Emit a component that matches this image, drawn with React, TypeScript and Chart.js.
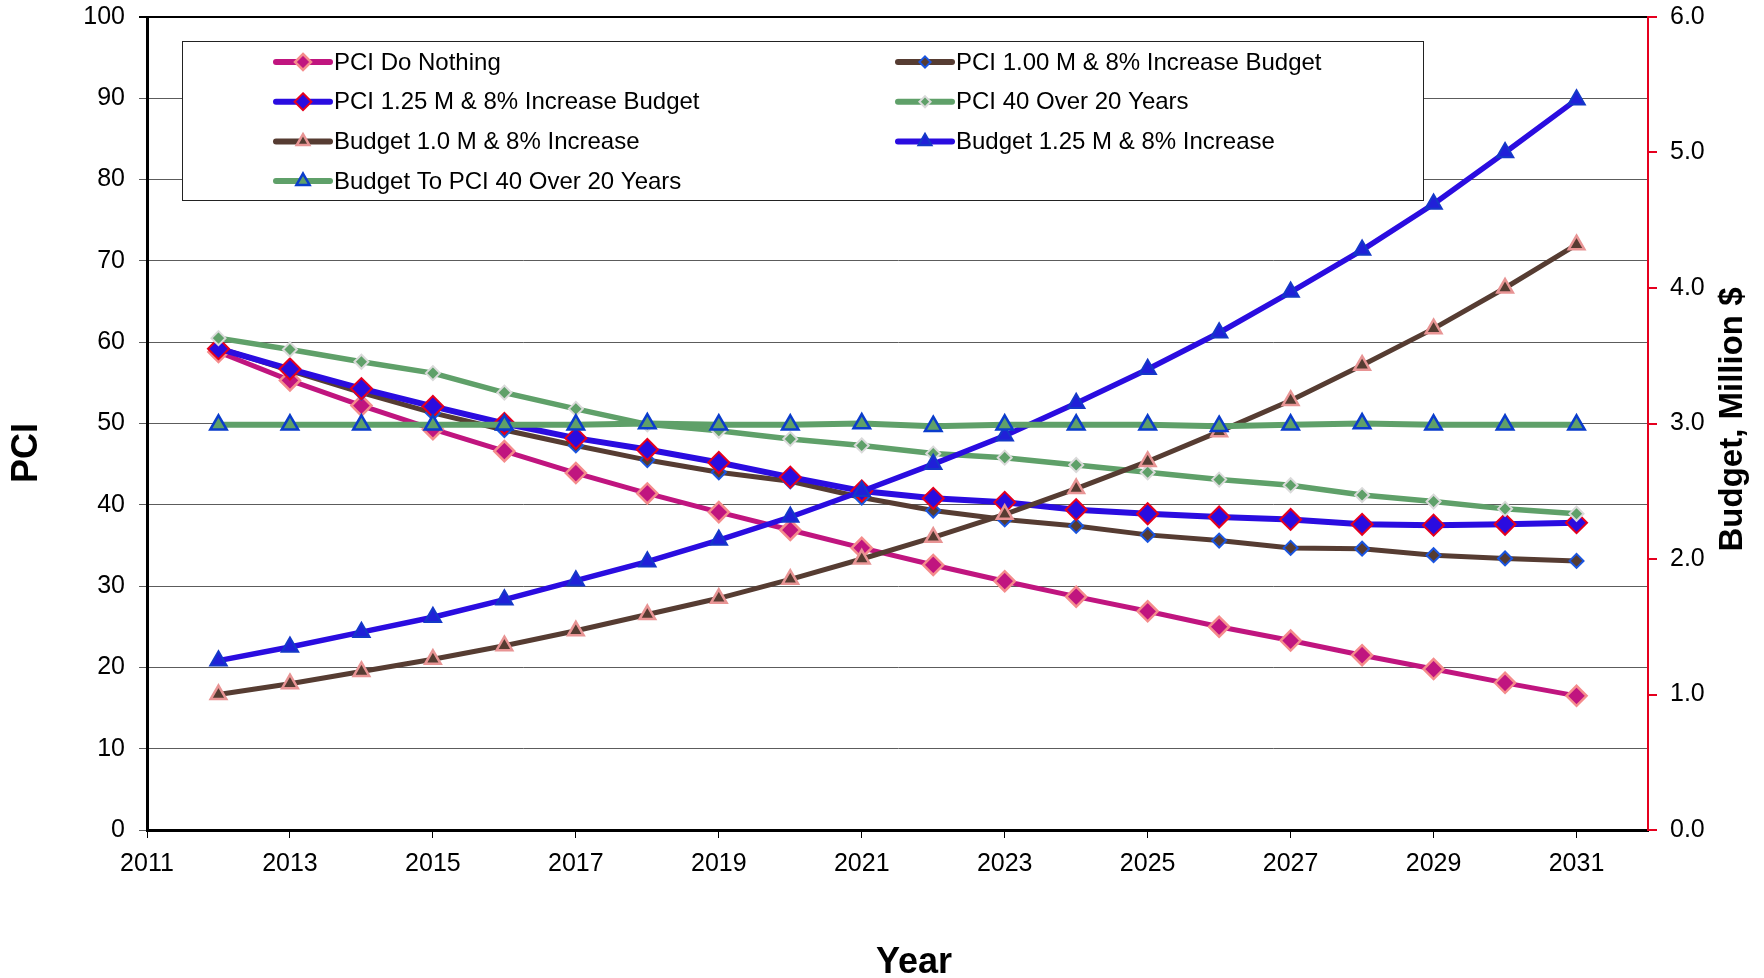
import React, { useEffect, useRef } from "react";
import { Chart, registerables } from "chart.js";

Chart.register(...registerables);

const FONT = "'Liberation Sans', Arial, Helvetica, sans-serif";

// ---- data ----
const years = [
  2012, 2013, 2014, 2015, 2016, 2017, 2018, 2019, 2020, 2021,
  2022, 2023, 2024, 2025, 2026, 2027, 2028, 2029, 2030, 2031,
];

const pciDoNothing = [
  58.8, 55.3, 52.2, 49.3, 46.6, 43.9, 41.4, 39.1, 36.9, 34.7,
  32.6, 30.6, 28.7, 26.9, 25.0, 23.3, 21.5, 19.8, 18.1, 16.5,
];
const pci100Budget = [
  59.3, 56.5, 53.8, 51.3, 49.2, 47.3, 45.5, 44.0, 42.9, 40.9,
  39.3, 38.2, 37.4, 36.3, 35.6, 34.7, 34.6, 33.8, 33.4, 33.1,
];
const pci125Budget = [
  59.2, 56.7, 54.3, 52.1, 50.0, 48.2, 46.8, 45.2, 43.4, 41.7,
  40.8, 40.3, 39.4, 38.9, 38.5, 38.2, 37.6, 37.5, 37.6, 37.8,
];
const pci40Over20 = [
  60.5, 59.1, 57.6, 56.2, 53.8, 51.8, 49.9, 49.1, 48.1, 47.3,
  46.3, 45.8, 44.9, 44.0, 43.1, 42.4, 41.2, 40.4, 39.5, 38.9,
];
const budget100 = [
  1.0, 1.08, 1.17, 1.26, 1.36, 1.47, 1.59, 1.71, 1.85, 2.0,
  2.16, 2.33, 2.52, 2.72, 2.94, 3.17, 3.43, 3.7, 4.0, 4.32,
];
const budget125 = [
  1.25, 1.35, 1.46, 1.57, 1.7, 1.84, 1.98, 2.14, 2.31, 2.5,
  2.7, 2.91, 3.15, 3.4, 3.67, 3.97, 4.28, 4.62, 5.0, 5.39,
];
const budgetPci40 = [
  2.99, 2.99, 2.99, 2.99, 2.99, 2.99, 3.0, 2.99, 2.99, 3.0,
  2.98, 2.99, 2.99, 2.99, 2.98, 2.99, 3.0, 2.99, 2.99, 2.99,
];

const yearTicks = [2011, 2013, 2015, 2017, 2019, 2021, 2023, 2025, 2027, 2029, 2031];

// ---- styles ----
const MAGENTA = "#C0157F";
const SALMON = "#F58C8C";
const BROWN = "#563C32";
const BLUE = "#2A0CE0";
const GREEN = "#5FA069";
const RED = "#E5001E";
const EDGE_BLUE = "#1A55E0";

type Series = {
  label: string;
  values: number[];
  axis: "y" | "y1";
  line: string;
  fill: string;
  edge: string;
  shape: "rectRot" | "triangle";
  radius: number;
  lineWidth: number;
  edgeWidth: number;
};

const series: Series[] = [
  { label: "PCI Do Nothing", values: pciDoNothing, axis: "y", line: MAGENTA, fill: MAGENTA, edge: SALMON, shape: "rectRot", radius: 10, lineWidth: 5, edgeWidth: 2.5 },
  { label: "PCI 1.00 M & 8% Increase Budget", values: pci100Budget, axis: "y", line: BROWN, fill: BROWN, edge: EDGE_BLUE, shape: "rectRot", radius: 7, lineWidth: 5, edgeWidth: 2 },
  { label: "PCI 1.25 M & 8% Increase Budget", values: pci125Budget, axis: "y", line: BLUE, fill: BLUE, edge: RED, shape: "rectRot", radius: 10.5, lineWidth: 6, edgeWidth: 2 },
  { label: "PCI 40 Over 20 Years", values: pci40Over20, axis: "y", line: GREEN, fill: GREEN, edge: "#DADADA", shape: "rectRot", radius: 7, lineWidth: 5.5, edgeWidth: 2 },
  { label: "Budget 1.0 M & 8% Increase", values: budget100, axis: "y1", line: BROWN, fill: BROWN, edge: "#E89494", shape: "triangle", radius: 9, lineWidth: 5, edgeWidth: 2.5 },
  { label: "Budget 1.25 M & 8% Increase", values: budget125, axis: "y1", line: BLUE, fill: "#2020D8", edge: "#1438C8", shape: "triangle", radius: 9.5, lineWidth: 5.5, edgeWidth: 2 },
  { label: "Budget To PCI 40 Over 20 Years", values: budgetPci40, axis: "y1", line: GREEN, fill: GREEN, edge: "#0A3CCC", shape: "triangle", radius: 9.5, lineWidth: 6, edgeWidth: 2.5 },
];

function shapePath(ctx: CanvasRenderingContext2D, shape: string, x: number, y: number, r: number) {
  ctx.beginPath();
  if (shape === "rectRot") {
    ctx.moveTo(x, y - r);
    ctx.lineTo(x + r, y);
    ctx.lineTo(x, y + r);
    ctx.lineTo(x - r, y);
  } else {
    for (let k = 0; k < 3; k++) {
      const a = (k * 2 * Math.PI) / 3;
      const px = x + Math.sin(a) * r;
      const py = y - Math.cos(a) * r;
      if (k === 0) ctx.moveTo(px, py);
      else ctx.lineTo(px, py);
    }
  }
  ctx.closePath();
}

// Boxed two-column legend inside the plot area
const legendBox = {
  id: "legendBox",
  afterDatasetsDraw(chart: Chart) {
    const ctx = chart.ctx;
    ctx.save();
    ctx.fillStyle = "#ffffff";
    ctx.fillRect(182, 41, 1241, 159);
    ctx.strokeStyle = "#222";
    ctx.lineWidth = 1;
    ctx.strokeRect(182.5, 41.5, 1241, 159);

    const colX = [276, 898];
    series.forEach((s, i) => {
      const col = i % 2;
      const row = Math.floor(i / 2);
      const x0 = colX[col];
      const y = 62 + row * 39.7;
      ctx.strokeStyle = s.line;
      ctx.lineWidth = 6;
      ctx.lineCap = "round";
      ctx.beginPath();
      ctx.moveTo(x0, y);
      ctx.lineTo(x0 + 54, y);
      ctx.stroke();
      shapePath(ctx, s.shape, x0 + 27, y, s.radius * 0.8);
      ctx.fillStyle = s.fill;
      ctx.fill();
      ctx.strokeStyle = s.edge;
      ctx.lineWidth = s.edgeWidth;
      ctx.lineJoin = "miter";
      ctx.stroke();
      ctx.fillStyle = "#000";
      ctx.font = `24px ${FONT}`;
      ctx.textAlign = "left";
      ctx.textBaseline = "middle";
      ctx.fillText(s.label, x0 + 58, y + 1);
    });
    ctx.restore();
  },
};

// Axis titles
const axisTitles = {
  id: "axisTitles",
  afterDraw(chart: Chart) {
    const ctx = chart.ctx;
    ctx.save();
    ctx.fillStyle = "#000";
    ctx.textAlign = "center";

    ctx.font = `bold 36px ${FONT}`;
    ctx.textBaseline = "alphabetic";
    ctx.fillText("Year", 914, 972.5);

    ctx.save();
    ctx.translate(27.5, 453);
    ctx.rotate(-Math.PI / 2);
    ctx.textBaseline = "middle";
    ctx.fillText("PCI", 0, 0);
    ctx.restore();

    ctx.save();
    ctx.translate(1733, 419.5);
    ctx.rotate(-Math.PI / 2);
    ctx.font = `bold 33px ${FONT}`;
    ctx.textBaseline = "middle";
    ctx.fillText("Budget, Million $", 0, 0);
    ctx.restore();

    ctx.restore();
  },
};

const noVerticalPadding = (s: any, width: number) => {
  s.width = width;
  s.paddingTop = 0;
  s.paddingBottom = 0;
};

export default function App() {
  const canvasRef = useRef<HTMLCanvasElement | null>(null);

  useEffect(() => {
    document.body.style.margin = "0";
    const canvas = canvasRef.current;
    if (!canvas) return;

    const datasets = series.map((s, i) => ({
      label: s.label,
      data: years.map((yr, k) => ({ x: yr, y: s.values[k] })),
      yAxisID: s.axis,
      borderColor: s.line,
      backgroundColor: s.fill,
      borderWidth: s.lineWidth,
      pointStyle: s.shape,
      pointRadius: s.radius,
      pointBackgroundColor: s.fill,
      pointBorderColor: s.edge,
      pointBorderWidth: s.edgeWidth,
      tension: 0,
      fill: false,
      order: series.length - i,
    }));

    const chart = new Chart(canvas, {
      type: "line",
      data: { datasets },
      options: {
        responsive: false,
        animation: false,
        devicePixelRatio: 1,
        layout: { padding: { top: 17, left: 0, right: 0, bottom: 0 } },
        plugins: {
          legend: { display: false },
          tooltip: { enabled: false },
        },
        scales: {
          x: {
            type: "linear",
            position: "bottom",
            min: 2011,
            max: 2032,
            afterBuildTicks: (s: any) => {
              s.ticks = yearTicks.map((v) => ({ value: v }));
            },
            afterFit: (s: any) => {
              s.height = 148;
            },
            grid: { drawOnChartArea: false, drawTicks: true, tickLength: 8, color: "#000", lineWidth: 1 },
            border: { display: true, color: "#000", width: 3 },
            ticks: {
              font: { family: FONT, size: 25 },
              color: "#000",
              padding: 11,
              maxRotation: 0,
              autoSkip: false,
              callback: (v: any) => String(v),
            },
          },
          y: {
            type: "linear",
            position: "left",
            min: 0,
            max: 100,
            afterFit: (s: any) => noVerticalPadding(s, 147),
            grid: {
              color: (c: any) => (c.tick && c.tick.value === 100 ? "#000" : "#5c5c5c"),
              lineWidth: (c: any) => (c.tick && c.tick.value === 100 ? 2 : 1),
              tickLength: 8,
            },
            border: { display: true, color: "#000", width: 3 },
            ticks: {
              stepSize: 10,
              font: { family: FONT, size: 25 },
              color: "#000",
              padding: 14,
            },
          },
          y1: {
            type: "linear",
            position: "right",
            min: 0,
            max: 6,
            afterFit: (s: any) => noVerticalPadding(s, 116),
            grid: { drawOnChartArea: false, drawTicks: true, tickLength: 9, color: RED, lineWidth: 2 },
            border: { display: true, color: RED, width: 2 },
            ticks: {
              stepSize: 1,
              font: { family: FONT, size: 25 },
              color: "#000",
              padding: 13,
              callback: (v: any) => Number(v).toFixed(1),
            },
          },
        },
      },
      plugins: [legendBox, axisTitles],
    });

    return () => chart.destroy();
  }, []);

  return (
    <div style={{ width: 1764, height: 978 }}>
      <canvas ref={canvasRef} width={1764} height={978} style={{ display: "block" }} />
    </div>
  );
}
